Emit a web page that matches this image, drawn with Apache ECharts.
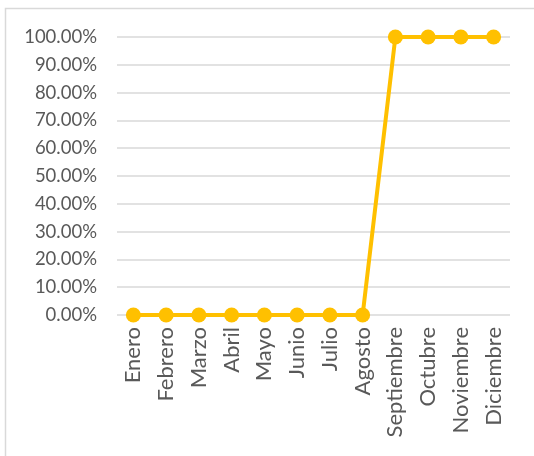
<!DOCTYPE html>
<html><head><meta charset="utf-8">
<script src="https://cdn.jsdelivr.net/npm/echarts@6/dist/echarts.min.js"></script>
<style>html,body{margin:0;padding:0;background:#fff}#c{width:534px;height:456px}</style>
</head><body><div id="c"></div>
<script>
var categories = ['Enero','Febrero','Marzo','Abril','Mayo','Junio','Julio','Agosto','Septiembre','Octubre','Noviembre','Diciembre'];
var values = [0,0,0,0,0,0,0,0,1,1,1,1];
var chart = echarts.init(document.getElementById('c'));
chart.setOption({
  animation:false,
  graphic:[{type:'rect',shape:{x:5.5,y:8.5,width:540,height:470},style:{fill:'none',stroke:'#D9D9D9',lineWidth:1.5},silent:true}],
  grid:{left:117,right:24,top:37,bottom:141,containLabel:false},
  xAxis:{type:'category',data:categories,boundaryGap:true,
    axisLine:{show:false},axisTick:{show:false},
    axisLabel:{rotate:90,color:'#595959',fontFamily:'Lato',fontSize:22,margin:12,interval:0}},
  yAxis:{type:'value',min:0,max:1,interval:0.1,
    axisLine:{show:false},axisTick:{show:false},
    splitLine:{lineStyle:{color:'#D9D9D9',width:1.5}},
    axisLabel:{color:'#595959',fontFamily:'Lato',fontSize:18.5,margin:20,
      formatter:function(v){return (v*100).toFixed(2)+'%';}}},
  series:[{type:'line',data:values,symbol:'circle',symbolSize:15,
    lineStyle:{color:'#FFC000',width:4},itemStyle:{color:'#FFC000'}}]
});
</script></body></html>
